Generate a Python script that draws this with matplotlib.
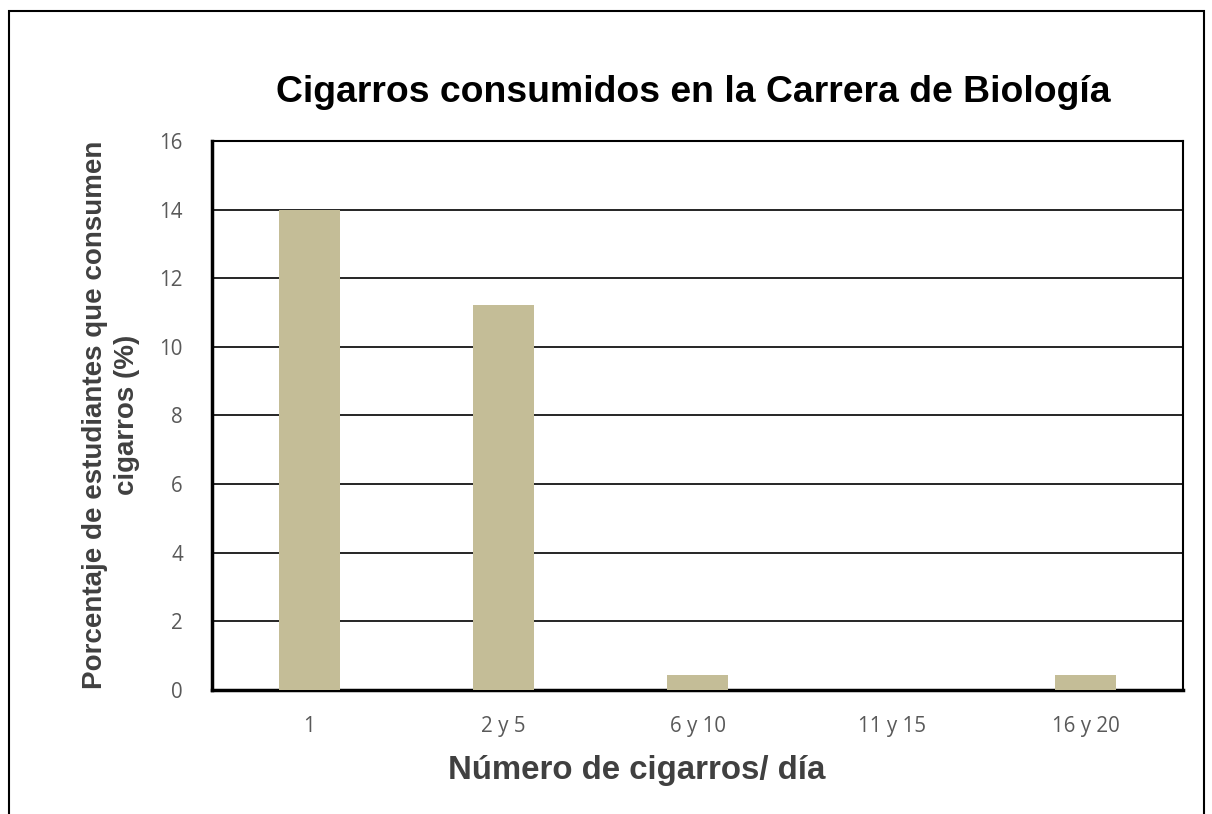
import matplotlib
matplotlib.use("Agg")
import matplotlib.pyplot as plt
from matplotlib.patches import Rectangle

categories = ["1", "2 y 5", "6 y 10", "11 y 15", "16 y 20"]
percentages = [14.0, 11.22, 0.44, 0.0, 0.44]
y_ticks = [0, 2, 4, 6, 8, 10, 12, 14, 16]

W, H = 1212, 814
fig = plt.figure(figsize=(W / 100, H / 100), dpi=100)

# outer chart frame
fig.patches.append(Rectangle((9 / W, -0.05), (1204 - 9) / W, 1.05 - 11 / H,
                             transform=fig.transFigure, fill=False,
                             edgecolor="black", linewidth=1.5))

left, right, top, bottom = 212, 1183, 141, 690
ax = fig.add_axes([left / W, 1 - bottom / H, (right - left) / W, (bottom - top) / H])

x = range(len(categories))
ax.bar(x, percentages, width=0.315, color="#c4bd97", zorder=3)

ax.set_xlim(-0.5, len(categories) - 0.5)
ax.set_ylim(0, 16)
ax.set_yticks(y_ticks)
ax.set_yticklabels([str(t) for t in y_ticks])
ax.set_xticks(list(x))
ax.set_xticklabels(categories)
ax.yaxis.grid(True, color="black", linewidth=1.2, zorder=1)
ax.set_axisbelow(True)

ax.tick_params(axis="both", length=0, labelsize=14.8, labelcolor="#595959")
ax.tick_params(axis="y", pad=21)
ax.tick_params(axis="x", pad=19)
for lab in ax.get_xticklabels() + ax.get_yticklabels():
    lab.set_fontfamily("Open Sans")

for side in ["top", "right"]:
    ax.spines[side].set_linewidth(1.5)
for side in ["left", "bottom"]:
    ax.spines[side].set_linewidth(2.5)

fig.text(693 / W, 1 - 92 / H, "Cigarros consumidos en la Carrera de Biología",
         ha="center", va="center", fontsize=26.9, fontweight="bold",
         fontfamily="Liberation Sans", color="black")
fig.text(637 / W, 1 - 771 / H, "Número de cigarros/ día",
         ha="center", va="center", fontsize=23.8, fontweight="bold",
         fontfamily="Liberation Sans", color="#404040")
fig.text(111 / W, 1 - 415 / H, "Porcentaje de estudiantes que consumen\ncigarros (%)",
         ha="center", va="center", rotation=90, fontsize=20, fontweight="bold",
         fontfamily="Liberation Sans", color="#404040", linespacing=1.25)

fig.savefig("out.png", dpi=100)
